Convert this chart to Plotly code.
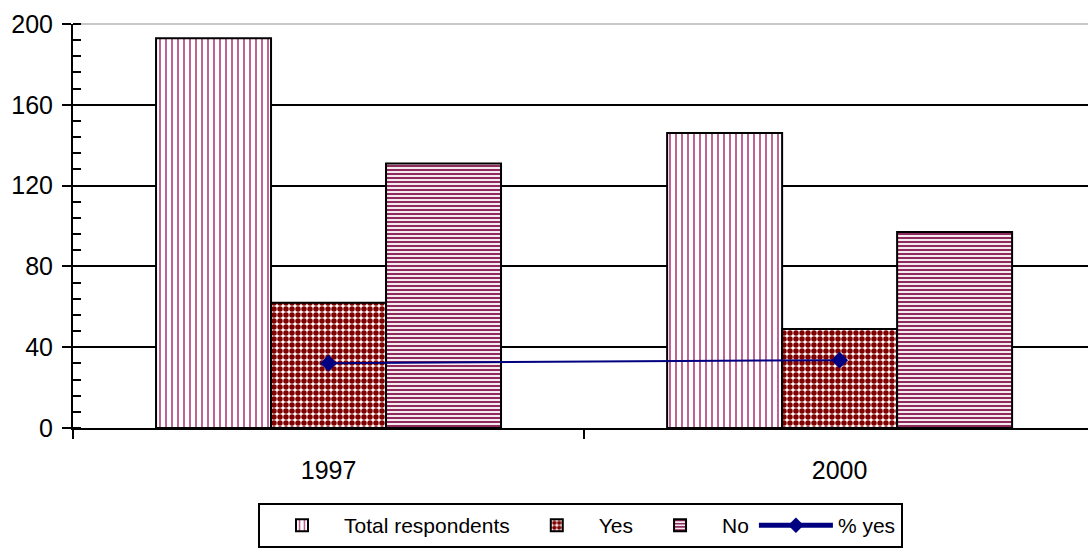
import plotly.graph_objects as go

years = ["1997", "2000"]
total_respondents = [193, 146]
yes_counts = [62, 49]
no_counts = [131, 97]
pct_yes = [32.1, 33.6]

font_family = "Liberation Sans, Arial, sans-serif"

fig = go.Figure()

fig.add_trace(go.Bar(
    name="Total respondents", x=years, y=total_respondents,
    marker=dict(color="white", line=dict(color="black", width=2),
                pattern=dict(shape="|", fgcolor="#b8528c", bgcolor="white",
                             size=6, solidity=0.3, fgopacity=1)),
))
fig.add_trace(go.Bar(
    name="Yes", x=years, y=yes_counts,
    marker=dict(color="white", line=dict(color="black", width=2),
                pattern=dict(shape=".", fgcolor="#800000", bgcolor="white",
                             size=6, solidity=0.65, fgopacity=1)),
))
fig.add_trace(go.Bar(
    name="No", x=years, y=no_counts,
    marker=dict(color="white", line=dict(color="black", width=2),
                pattern=dict(shape="-", fgcolor="#8f2a5c", bgcolor="white",
                             size=4, solidity=0.55, fgopacity=1)),
))
fig.add_trace(go.Scatter(
    name="% yes", x=years, y=pct_yes, mode="lines+markers",
    line=dict(color="#000080", width=2),
    marker=dict(symbol="diamond", size=13, color="#000080"),
))

fig.update_layout(
    width=1088, height=552,
    margin=dict(l=73, r=0, t=24, b=124, autoexpand=False),
    paper_bgcolor="white", plot_bgcolor="white",
    font=dict(family=font_family, size=25, color="black"),
    barmode="group", bargap=0.325, bargroupgap=0,
    showlegend=True,
    legend=dict(orientation="h", x=0.5, xanchor="center", y=-0.186, yanchor="top",
                bordercolor="black", borderwidth=2, bgcolor="white",
                font=dict(family=font_family, size=21, color="black"),
                itemwidth=74, itemsizing="constant", tracegroupgap=0),
    shapes=[dict(type="line", xref="paper", yref="paper", x0=0, x1=1, y0=1, y1=1,
                 line=dict(color="#c8c8c8", width=2), layer="below")],
)

fig.update_xaxes(
    type="category", range=[-0.5, 1.486],
    showline=True, linecolor="black", linewidth=2,
    ticks="outside", ticklen=9, tickwidth=2, tickcolor="black",
    tickson="boundaries", ticklabelstandoff=19,
    tickfont=dict(family=font_family, size=25, color="black"),
    showgrid=False, zeroline=False, automargin=False,
)
fig.update_yaxes(
    range=[0, 200], dtick=40, tick0=0,
    showline=True, linecolor="black", linewidth=2,
    ticks="outside", ticklen=9, tickwidth=2, tickcolor="black",
    ticklabelstandoff=4,
    tickfont=dict(family=font_family, size=25, color="black"),
    showgrid=True, gridcolor="black", gridwidth=2,
    zeroline=False, automargin=False,
    minor=dict(dtick=8, ticks="inside", ticklen=8, tickwidth=2, tickcolor="black",
               showgrid=False),
)

fig.write_html("out.html")
